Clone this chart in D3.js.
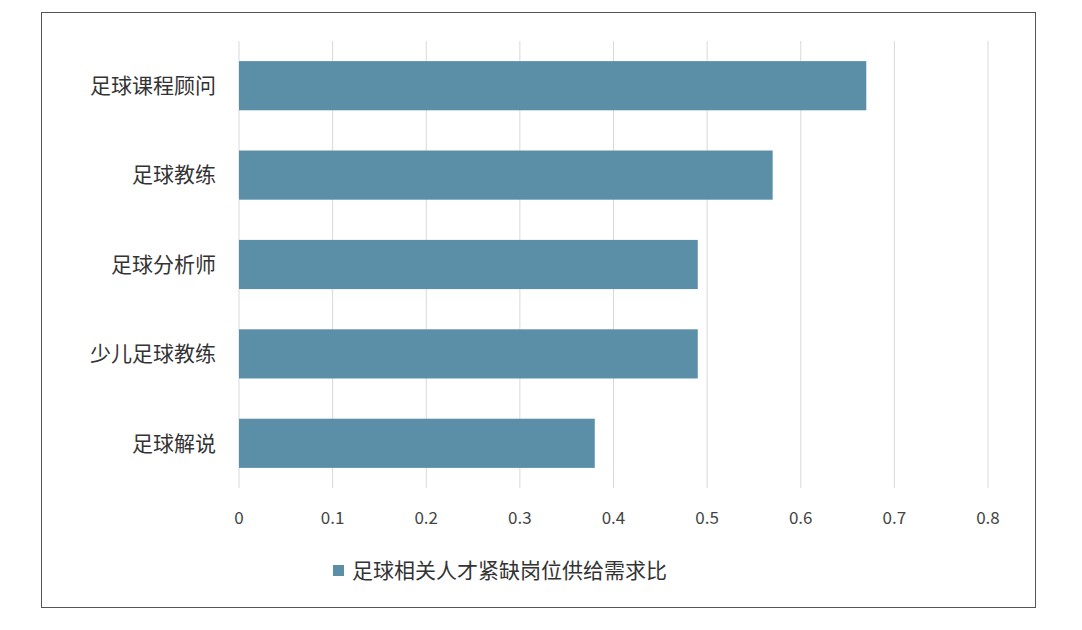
<!DOCTYPE html><html><head><meta charset="utf-8"><script src="https://cdn.jsdelivr.net/npm/d3@7"></script>
<style>body{margin:0;background:#fff}</style></head><body><svg id="c" width="1082" height="630"></svg>
<script>
const categories=["足球课程顾问","足球教练","足球分析师","少儿足球教练","足球解说"];
const values=[0.67,0.57,0.49,0.49,0.38];
const ticks=[0,0.1,0.2,0.3,0.4,0.5,0.6,0.7,0.8];
const seriesName="足球相关人才紧缺岗位供给需求比";
const svg=d3.select("#c");
const font="'Noto Sans CJK SC',sans-serif";
svg.append("rect").attr("x",41.5).attr("y",12.5).attr("width",994).attr("height",595).attr("fill","#fff").attr("stroke","#555").attr("stroke-width",1);
const x=d3.scaleLinear().domain([0,0.8]).range([239,988]);
const y=d3.scaleBand().domain(categories).range([41,488]).paddingInner(0.45).paddingOuter(0.225);
svg.append("g").selectAll("line").data(ticks).join("line").attr("x1",d=>x(d)).attr("x2",d=>x(d)).attr("y1",41).attr("y2",488).attr("stroke","#d9d9d9");
svg.append("g").selectAll("rect").data(values).join("rect").attr("x",x(0)).attr("y",(d,i)=>y(categories[i])).attr("width",d=>x(d)-x(0)).attr("height",y.bandwidth()).attr("fill","#5b8fa8");
svg.append("g").selectAll("text").data(categories).join("text").attr("x",216).attr("y",d=>y(d)+y.bandwidth()/2).attr("dy","0.35em").attr("text-anchor","end").attr("font-family",font).attr("font-size",21).attr("fill","#333").text(d=>d);
svg.append("g").selectAll("text").data(ticks).join("text").attr("x",d=>x(d)).attr("y",524).attr("text-anchor","middle").attr("font-family",font).attr("font-size",17).attr("fill","#444").text(d=>d3.format("")(d));
svg.append("rect").attr("x",333).attr("y",565).attr("width",11).attr("height",11).attr("fill","#5b8fa8");
svg.append("text").attr("x",352).attr("y",571).attr("dy","0.35em").attr("font-family",font).attr("font-size",21).attr("fill","#333").text(seriesName);
</script></body></html>
